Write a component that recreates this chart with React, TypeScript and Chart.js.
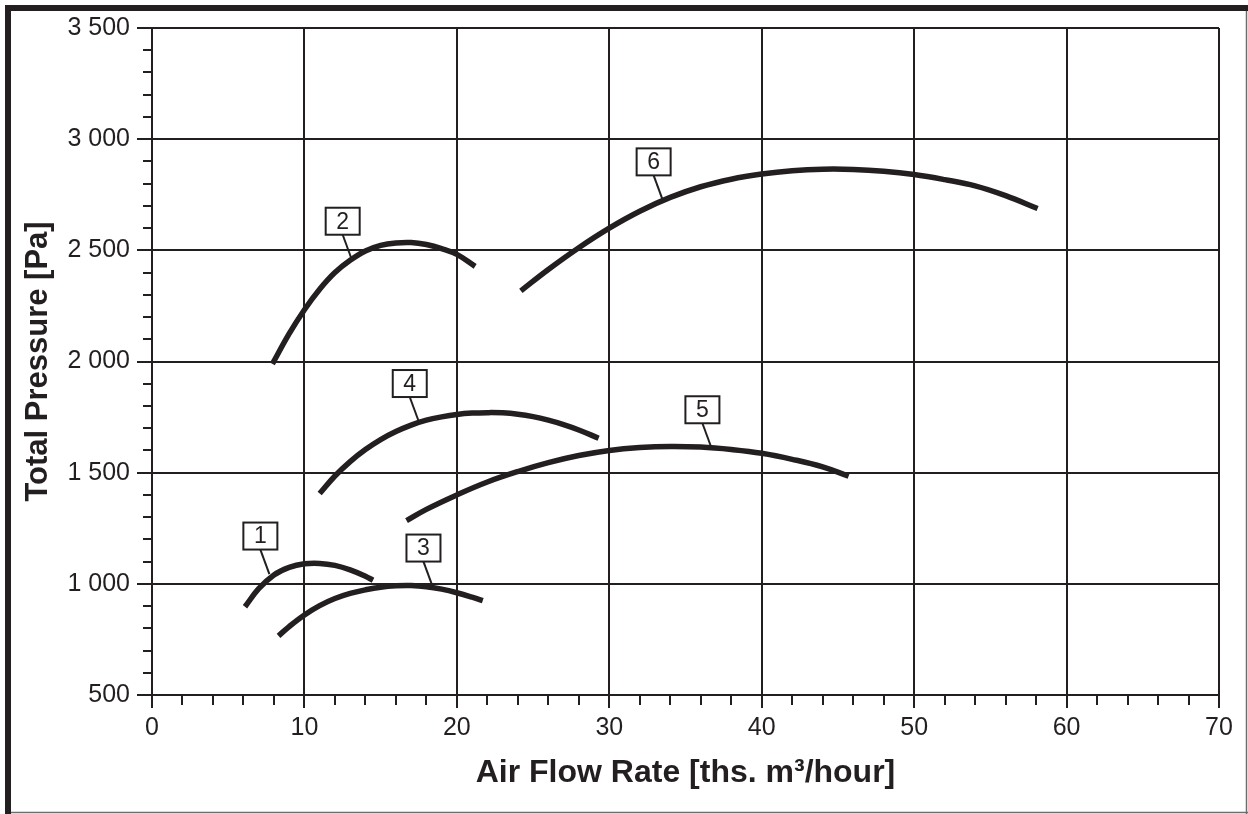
import React, { useEffect, useRef } from "react";
import { Chart, registerables } from "chart.js";

Chart.register(...registerables);

const INK = "#231f20";
const FONT = "'Liberation Sans', Arial, Helvetica, sans-serif";

// Curve data (flow in ths. m3/hour, pressure in Pa)
const flow1 = [6.1, 7, 8, 9, 10, 11, 12, 13, 14, 14.5];
const pressure1 = [897, 978, 1040, 1074, 1090, 1092, 1083, 1063, 1034, 1016];

const flow2 = [7.9, 9, 10, 11, 12, 13, 14, 15, 16, 17, 18, 19, 20, 21.2];
const pressure2 = [1989, 2125, 2233, 2325, 2400, 2455, 2497, 2522, 2533, 2535, 2526, 2508, 2482, 2428];

const flow3 = [8.3, 9, 10, 11, 12, 13, 14, 15, 16, 17, 18, 19, 20, 21, 21.7];
const pressure3 = [766, 808, 860, 902, 934, 957, 973, 985, 991, 992, 987, 976, 960, 940, 924];

const flow4 = [11, 12, 13, 14, 15, 16, 17, 18, 19, 20, 21, 22, 23, 24, 25, 26, 27, 28, 29.3];
const pressure4 = [1406, 1485, 1550, 1604, 1649, 1685, 1714, 1736, 1751, 1762, 1768, 1770, 1769, 1763, 1752, 1736, 1716, 1692, 1655];

const flow5 = [16.7, 18, 20, 22, 24, 26, 28, 30, 32, 34, 36, 38, 40, 42, 44, 45.7];
const pressure5 = [1284, 1335, 1400, 1458, 1505, 1545, 1577, 1600, 1613, 1618, 1615, 1604, 1587, 1560, 1526, 1484];

const flow6 = [24.2, 26, 28, 30, 32, 34, 36, 38, 40, 42, 44, 46, 48, 50, 52, 54, 56, 58.1];
const pressure6 = [2318, 2414, 2512, 2600, 2676, 2738, 2786, 2820, 2843, 2858, 2865, 2864, 2856, 2841, 2818, 2790, 2746, 2688];

const curveNames = ["1", "2", "3", "4", "5", "6"];
const curveFlows = [flow1, flow2, flow3, flow4, flow5, flow6];
const curvePressures = [pressure1, pressure2, pressure3, pressure4, pressure5, pressure6];

// Where each numbered label's leader line touches its curve
const labelFlow = [7.7, 13.1, 18.4, 17.5, 36.7, 33.5];
const labelPressure = [1044, 2460, 990, 1730, 1612, 2727];

const X_MIN = 0;
const X_MAX = 70;
const X_MAJOR = 10;
const X_MINOR = 2;
const Y_MIN = 500;
const Y_MAX = 3500;
const Y_MAJOR = 500;
const Y_MINOR = 100;

const xTitle = "Air Flow Rate [ths. m\u00B3/hour]";
const yTitle = "Total Pressure [Pa]";

function formatPressure(v: number): string {
  if (v >= 1000) {
    const th = Math.floor(v / 1000);
    const rest = String(v % 1000).padStart(3, "0");
    return `${th} ${rest}`;
  }
  return String(v);
}

function clearScalePadding(scale: any) {
  scale.paddingTop = 0;
  scale.paddingBottom = 0;
  scale.paddingLeft = 0;
  scale.paddingRight = 0;
}

const framePlugin = {
  id: "frame",
  beforeDraw(chart: any) {
    const { ctx, width, height } = chart;
    ctx.save();
    ctx.fillStyle = "#ffffff";
    ctx.fillRect(0, 0, width, height);
    ctx.fillStyle = INK;
    ctx.fillRect(5, 5, width - 5, 6);
    ctx.fillRect(5, 5, 6, height - 5);
    ctx.strokeStyle = "#6d6d6d";
    ctx.lineWidth = 1.5;
    ctx.beginPath();
    ctx.moveTo(1246.5, 11);
    ctx.lineTo(1246.5, height);
    ctx.moveTo(11, 812.5);
    ctx.lineTo(width, 812.5);
    ctx.stroke();
    ctx.restore();
  },
};

const tickMarksPlugin = {
  id: "tickMarks",
  afterDraw(chart: any) {
    const { ctx, chartArea, scales } = chart;
    const xs = scales.x;
    const ys = scales.y;
    ctx.save();
    ctx.strokeStyle = INK;
    ctx.lineWidth = 2;
    ctx.lineCap = "butt";
    ctx.beginPath();
    xs.ticks.forEach((t: any) => {
      const px = Math.round(xs.getPixelForValue(t.value));
      const len = t.value % X_MAJOR === 0 ? 13 : 10;
      ctx.moveTo(px, chartArea.bottom);
      ctx.lineTo(px, chartArea.bottom + len);
    });
    ys.ticks.forEach((t: any) => {
      const py = Math.round(ys.getPixelForValue(t.value));
      const len = t.value % Y_MAJOR === 0 ? 15 : 9;
      ctx.moveTo(chartArea.left, py);
      ctx.lineTo(chartArea.left - len, py);
    });
    ctx.stroke();
    ctx.restore();
  },
};

const curveLabelsPlugin = {
  id: "curveLabels",
  afterDatasetsDraw(chart: any) {
    const { ctx, scales } = chart;
    const xs = scales.x;
    const ys = scales.y;
    const boxW = 34;
    const boxH = 27;
    const dx = -9;
    const dy = -38;
    ctx.save();
    curveNames.forEach((name, i) => {
      const px = xs.getPixelForValue(labelFlow[i]);
      const py = ys.getPixelForValue(labelPressure[i]);
      const cx = px + dx;
      const cy = py + dy;
      ctx.strokeStyle = INK;
      ctx.lineWidth = 2;
      ctx.beginPath();
      ctx.moveTo(cx, cy + boxH / 2);
      ctx.lineTo(px, py);
      ctx.stroke();
      ctx.fillStyle = "#ffffff";
      ctx.fillRect(cx - boxW / 2, cy - boxH / 2, boxW, boxH);
      ctx.strokeRect(cx - boxW / 2, cy - boxH / 2, boxW, boxH);
      ctx.fillStyle = INK;
      ctx.font = `23px ${FONT}`;
      ctx.textAlign = "center";
      ctx.textBaseline = "middle";
      ctx.fillText(name, cx, cy + 1);
    });
    ctx.restore();
  },
};

export default function App() {
  const canvasRef = useRef<HTMLCanvasElement | null>(null);

  useEffect(() => {
    if (!canvasRef.current) return;
    const datasets = curveNames.map((name, i) => ({
      label: name,
      data: curveFlows[i].map((f, j) => ({ x: f, y: curvePressures[i][j] })),
      borderColor: INK,
      borderWidth: 5.5,
      borderCapStyle: "butt" as const,
      pointRadius: 0,
      fill: false,
      tension: 0.4,
    }));

    const chart = new Chart(canvasRef.current, {
      type: "line",
      data: { datasets },
      options: {
        animation: false,
        responsive: false,
        devicePixelRatio: 1,
        layout: { padding: { top: 28, right: 29, left: 0, bottom: 0 } },
        plugins: {
          legend: { display: false },
          tooltip: { enabled: false },
        },
        scales: {
          x: {
            type: "linear",
            min: X_MIN,
            max: X_MAX,
            afterFit(scale: any) {
              scale.height = 119;
              clearScalePadding(scale);
            },
            ticks: {
              stepSize: X_MINOR,
              autoSkip: false,
              maxRotation: 0,
              padding: 18,
              color: INK,
              font: { family: FONT, size: 25 },
              callback: (v: any) => (Number(v) % X_MAJOR === 0 ? String(v) : ""),
            },
            grid: {
              drawTicks: false,
              lineWidth: 2,
              color: (c: any) => (c.tick && c.tick.value % X_MAJOR === 0 ? INK : "rgba(0,0,0,0)"),
            },
            border: { display: true, color: INK, width: 2 },
            title: {
              display: true,
              text: xTitle,
              color: INK,
              font: { family: FONT, size: 32, weight: "bold" },
              padding: { top: 0, bottom: 22 },
            },
          },
          y: {
            type: "linear",
            min: Y_MIN,
            max: Y_MAX,
            afterFit(scale: any) {
              scale.width = 152;
              clearScalePadding(scale);
            },
            ticks: {
              stepSize: Y_MINOR,
              autoSkip: false,
              padding: 22,
              color: INK,
              font: { family: FONT, size: 25 },
              callback: (v: any) => (Number(v) % Y_MAJOR === 0 ? formatPressure(Number(v)) : ""),
            },
            grid: {
              drawTicks: false,
              lineWidth: 2,
              color: (c: any) => (c.tick && c.tick.value % Y_MAJOR === 0 ? INK : "rgba(0,0,0,0)"),
            },
            border: { display: true, color: INK, width: 2 },
            title: {
              display: true,
              text: yTitle,
              color: INK,
              font: { family: FONT, size: 31, weight: "bold" },
              padding: { top: 20, bottom: 0 },
            },
          },
        },
      },
      plugins: [framePlugin, tickMarksPlugin, curveLabelsPlugin],
    });
    return () => chart.destroy();
  }, []);

  return (
    <div style={{ position: "absolute", left: 0, top: 0, width: 1248, height: 814, background: "#fff" }}>
      <canvas ref={canvasRef} width={1248} height={814} style={{ display: "block" }} />
    </div>
  );
}
